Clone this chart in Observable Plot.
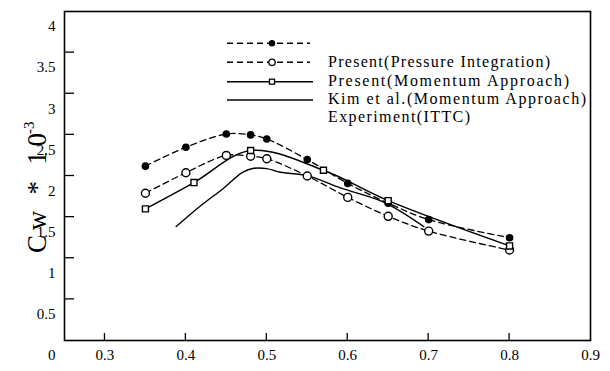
<!DOCTYPE html>
<html>
<head>
<meta charset="utf-8">
<script src="https://cdn.jsdelivr.net/npm/d3@7"></script>
<script src="https://cdn.jsdelivr.net/npm/@observablehq/plot@0.6"></script>
<style>
  html, body { margin: 0; padding: 0; background: #fff; }
  #chart { position: relative; width: 610px; height: 371px; }
  svg { font-family: "Liberation Serif", "DejaVu Serif", serif; }
</style>
</head>
<body>
<div id="chart"></div>
<script>
// ---- data ----
const xTicks = [0.3, 0.4, 0.5, 0.6, 0.7, 0.8, 0.9];
const yTicks = [0, 0.5, 1, 1.5, 2, 2.5, 3, 3.5, 4];

const pressureX = [0.35, 0.40, 0.45, 0.48, 0.50, 0.55, 0.60, 0.65, 0.70, 0.80];
const pressureY = [2.12, 2.35, 2.51, 2.50, 2.45, 2.20, 1.91, 1.67, 1.47, 1.25];

const momentumOpenX = [0.35, 0.40, 0.45, 0.48, 0.50, 0.55, 0.60, 0.65, 0.70, 0.80];
const momentumOpenY = [1.79, 2.04, 2.25, 2.24, 2.21, 2.00, 1.74, 1.51, 1.33, 1.10];

const squareX = [0.35, 0.41, 0.48, 0.57, 0.65, 0.80];
const squareY = [1.60, 1.92, 2.31, 2.07, 1.70, 1.15];

const kimX = [0.388, 0.416, 0.447, 0.470, 0.484, 0.500, 0.517, 0.550, 0.591, 0.645, 0.694];
const kimY = [1.385, 1.62, 1.855, 2.045, 2.094, 2.09, 2.045, 2.005, 1.855, 1.68, 1.385];

const legendLabels = [
  "Present(Pressure Integration)",
  "Present(Momentum Approach)",
  "Kim et al.(Momentum Approach)",
  "Experiment(ITTC)"
];

const zip = (xs, ys) => xs.map((x, i) => ({x, y: ys[i]}));
const sFilled = zip(pressureX, pressureY);
const sOpen = zip(momentumOpenX, momentumOpenY);
const sSquare = zip(squareX, squareY);
const sKim = zip(kimX, kimY);

const dash = "6,4";

const plot = Plot.plot({
  width: 610,
  height: 371,
  marginLeft: 64,
  marginRight: 20,
  marginTop: 11,
  marginBottom: 31,
  style: {fontFamily: "Liberation Serif, serif", background: "white"},
  x: {domain: [0.25, 0.9], label: null},
  y: {domain: [0, 4], label: null},
  marks: [
    // tick labels
    Plot.axisY(yTicks, {anchor: "left", label: null, tickSize: 0, tickPadding: 9, dy: 15, fontSize: 15, tickFormat: d => String(d), style: {letterSpacing: "1px"}}),
    Plot.axisX(xTicks, {anchor: "bottom", label: null, tickSize: 0, tickPadding: 9, fontSize: 15, tickFormat: d => String(d), style: {letterSpacing: "1px"}}),
    // series
    Plot.line(sKim, {x: "x", y: "y", curve: "catmull-rom", stroke: "black", strokeWidth: 1.4}),
    Plot.line(sFilled, {x: "x", y: "y", curve: "catmull-rom", stroke: "black", strokeWidth: 1.3, strokeDasharray: dash}),
    Plot.line(sOpen, {x: "x", y: "y", curve: "catmull-rom", stroke: "black", strokeWidth: 1.3, strokeDasharray: dash}),
    Plot.line(sSquare, {x: "x", y: "y", curve: "catmull-rom", stroke: "black", strokeWidth: 1.5}),
    Plot.dot(sFilled, {x: "x", y: "y", r: 3.8, fill: "black", stroke: "none"}),
    Plot.dot(sOpen, {x: "x", y: "y", r: 4, fill: "white", stroke: "black", strokeWidth: 1.4}),
    Plot.dot(sSquare, {x: "x", y: "y", r: 3.4, symbol: "square", fill: "white", stroke: "black", strokeWidth: 1.4}),
    Plot.frame({stroke: "black", strokeWidth: 1.6})
  ]
});

document.getElementById("chart").appendChild(plot);

const svg = d3.select(plot);
const sx = plot.scale("x"), sy = plot.scale("y");
const [x0] = sx.range, [y0] = sy.range;

// ---- inward tick marks ----
const tg = svg.append("g").attr("stroke", "black").attr("stroke-width", 1.3);
yTicks.filter(d => d > 0 && d < 4).forEach(d => {
  const y = sy.apply(d);
  tg.append("line").attr("x1", x0).attr("x2", x0 + 10).attr("y1", y).attr("y2", y);
});
xTicks.filter(d => d < 0.9).forEach(d => {
  const x = sx.apply(d);
  tg.append("line").attr("x1", x).attr("x2", x).attr("y1", y0).attr("y2", y0 - 7);
});

// ---- axis title ----
svg.append("text")
  .attr("transform", "translate(46,253) rotate(-90)")
  .attr("text-anchor", "start")
  .attr("font-size", 27)
  .attr("fill", "black")
  .attr("textLength", 120)
  .attr("lengthAdjust", "spacing")
  .text("Cw * 10");
svg.append("text")
  .attr("transform", "translate(34,134) rotate(-90)")
  .attr("text-anchor", "start")
  .attr("font-size", 15)
  .attr("fill", "black")
  .text("-3");

// ---- legend ----
const lg = svg.append("g");
const rows = [43.3, 62.3, 81.7, 100];
const styles = [
  {dash: dash, marker: "filled"},
  {dash: dash, marker: "open"},
  {dash: null, marker: "square"},
  {dash: null, marker: null}
];
styles.forEach((s, i) => {
  lg.append("line")
    .attr("x1", 227).attr("x2", i < 2 ? 310 : 313)
    .attr("y1", rows[i]).attr("y2", rows[i])
    .attr("stroke", "black").attr("stroke-width", 1.4)
    .attr("stroke-dasharray", s.dash);
  if (s.marker === "filled") {
    lg.append("circle").attr("cx", 272).attr("cy", rows[i]).attr("r", 3.2).attr("fill", "black");
  } else if (s.marker === "open") {
    lg.append("circle").attr("cx", 272).attr("cy", rows[i]).attr("r", 3.2).attr("fill", "white").attr("stroke", "black").attr("stroke-width", 1.3);
  } else if (s.marker === "square") {
    lg.append("rect").attr("x", 269.5).attr("y", rows[i] - 2.5).attr("width", 5).attr("height", 5).attr("fill", "white").attr("stroke", "black").attr("stroke-width", 1.3);
  }
});
const textRows = [61.7, 80, 98.3, 116.7];
const textLens = [222, 241, 258, 142];
legendLabels.forEach((t, i) => {
  lg.append("text")
    .attr("x", 328).attr("y", textRows[i])
    .attr("dy", "0.35em")
    .attr("text-anchor", "start")
    .attr("font-size", 16)
    .attr("fill", "black")
    .attr("textLength", textLens[i])
    .attr("lengthAdjust", "spacing")
    .text(t);
});
</script>
</body>
</html>
